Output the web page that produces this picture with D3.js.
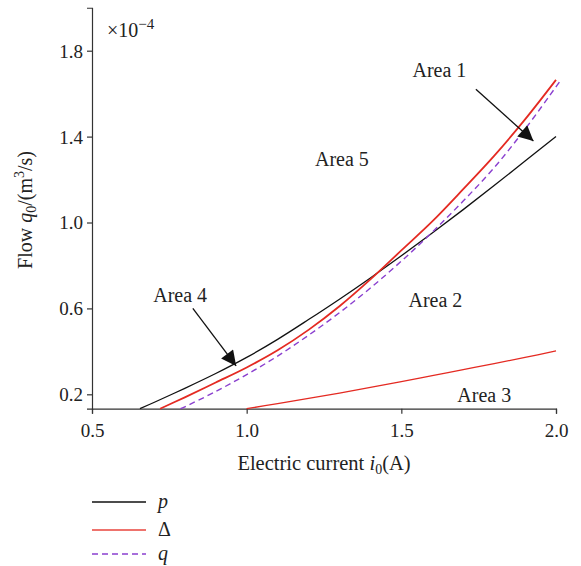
<!DOCTYPE html>
<html>
<head>
<meta charset="utf-8">
<script src="https://cdn.jsdelivr.net/npm/d3@7"></script>
<style>
  body { margin: 0; background: #fff; }
  svg { font-family: "Liberation Serif", "DejaVu Serif", serif; }
</style>
</head>
<body>
<svg id="chart" width="581" height="566"></svg>
<script>
// curve p (black)
const pCurrent = [0.655, 0.7, 0.8, 0.9, 1.0, 1.1, 1.2, 1.3, 1.4, 1.5, 1.6, 1.7, 1.8, 1.9, 2.0];
const pFlow    = [0.133, 0.162, 0.228, 0.297, 0.372, 0.456, 0.548, 0.643, 0.742, 0.845, 0.951, 1.06, 1.172, 1.286, 1.40];

// curve delta (red, upper)
const dCurrent = [0.72, 0.8, 0.9, 1.0, 1.1, 1.2, 1.3, 1.4, 1.5, 1.6, 1.7, 1.8, 1.9, 2.0];
const dFlow    = [0.133, 0.186, 0.255, 0.325, 0.405, 0.50, 0.61, 0.735, 0.87, 1.005, 1.155, 1.31, 1.48, 1.664];

// curve q (purple dashed)
const qCurrent = [0.786, 0.8, 0.9, 1.0, 1.1, 1.2, 1.3, 1.4, 1.5, 1.6, 1.7, 1.8, 1.9, 2.0, 2.015];
const qFlow    = [0.133, 0.142, 0.213, 0.292, 0.378, 0.475, 0.58, 0.695, 0.82, 0.955, 1.10, 1.255, 1.435, 1.632, 1.662];

// lower red line (Area 3 boundary)
const lCurrent = [1.0, 1.1, 1.2, 1.3, 1.4, 1.5, 1.6, 1.7, 1.8, 1.9, 2.0];
const lFlow    = [0.133, 0.157, 0.181, 0.206, 0.232, 0.259, 0.287, 0.315, 0.343, 0.372, 0.402];

const xTicks = [0.5, 1.0, 1.5, 2.0];
const yTicks = [0.2, 0.6, 1.0, 1.4, 1.8];

// area labels and arrows, in data units
const areaNames = ["Area 1", "Area 2", "Area 3", "Area 4", "Area 5"];
const areaX     = [1.536, 1.523, 1.681, 0.698, 1.221];
const areaY     = [1.679, 0.605, 0.166, 0.631, 1.261];
const arrows = [
  { from: [1.741, 1.620], to: [1.927, 1.380] },
  { from: [0.826, 0.600], to: [0.966, 0.332] }
];

const RED = "#e42a22";
const PURPLE = "#8a3fcf";

const svg = d3.select("#chart");

const x = d3.scaleLinear().domain([0.5, 2.0]).range([92, 556]);
const y = d3.scaleLinear().domain([0.133, 2.0]).range([408.7, 7.75]);

const zip = (a, b) => a.map((v, i) => [v, b[i]]);

const line = d3.line()
  .x(d => x(d[0]))
  .y(d => y(d[1]))
  .curve(d3.curveCatmullRom);

// axes
const xAxis = svg.append("g")
  .attr("transform", `translate(0,${y.range()[0]})`)
  .call(d3.axisBottom(x).tickValues(xTicks).tickFormat(d3.format(".1f")).tickSizeOuter(0).tickSize(5));
const yAxis = svg.append("g")
  .attr("transform", `translate(${x.range()[0]},0)`)
  .call(d3.axisLeft(y).tickValues(yTicks).tickFormat(d3.format(".1f")).tickSizeOuter(0).tickSize(5));

[xAxis, yAxis].forEach(a => {
  a.select(".domain").attr("stroke", "#333").attr("stroke-width", 1.2);
  a.selectAll(".tick line").attr("stroke", "#333").attr("stroke-width", 1.2);
  a.selectAll("text")
    .attr("fill", "#222")
    .style("font-family", "Liberation Serif, serif")
    .style("font-size", "19px");
});
xAxis.selectAll("text").attr("dy", "1.05em");
yAxis.selectAll("text").attr("dy", "0.34em").attr("x", -9);

// curves
svg.append("path").datum(zip(lCurrent, lFlow))
  .attr("d", line).attr("fill", "none").attr("stroke", RED).attr("stroke-width", 1.3);
svg.append("path").datum(zip(pCurrent, pFlow))
  .attr("d", line).attr("fill", "none").attr("stroke", "#111").attr("stroke-width", 1.3);
svg.append("path").datum(zip(dCurrent, dFlow))
  .attr("d", line).attr("fill", "none").attr("stroke", RED).attr("stroke-width", 1.8);
svg.append("path").datum(zip(qCurrent, qFlow))
  .attr("d", line).attr("fill", "none").attr("stroke", PURPLE).attr("stroke-width", 1.4)
  .attr("stroke-dasharray", "6,4");

// arrows
svg.append("defs").append("marker")
  .attr("id", "head")
  .attr("viewBox", "0 0 10 10")
  .attr("refX", 10).attr("refY", 5)
  .attr("markerWidth", 17).attr("markerHeight", 15)
  .attr("markerUnits", "userSpaceOnUse")
  .attr("orient", "auto")
  .append("path").attr("d", "M0,0 L10,5 L0,10 Z").attr("fill", "#111");

arrows.forEach(a => {
  svg.append("line")
    .attr("x1", x(a.from[0])).attr("y1", y(a.from[1]))
    .attr("x2", x(a.to[0])).attr("y2", y(a.to[1]))
    .attr("stroke", "#111").attr("stroke-width", 1.3)
    .attr("marker-end", "url(#head)");
});

// area labels
areaNames.forEach((name, i) => {
  svg.append("text")
    .attr("x", x(areaX[i])).attr("y", y(areaY[i]))
    .attr("font-size", 20).attr("fill", "#222")
    .text(name);
});

// exponent note
const expo = svg.append("text").attr("x", 107).attr("y", 37).attr("font-size", 20).attr("fill", "#222");
expo.append("tspan").text("×10");
expo.append("tspan").attr("dy", -8).attr("font-size", 15).text("−4");

// axis titles
const xt = svg.append("text")
  .attr("x", 324).attr("y", 470)
  .attr("text-anchor", "middle").attr("font-size", 20.5).attr("fill", "#222");
xt.append("tspan").text("Electric current ");
xt.append("tspan").attr("font-style", "italic").text("i");
xt.append("tspan").attr("font-size", 14).attr("dy", 4).text("0");
xt.append("tspan").attr("dy", -4).text("(A)");

const yt = svg.append("text")
  .attr("transform", "translate(32,210) rotate(-90)")
  .attr("text-anchor", "middle").attr("font-size", 20).attr("fill", "#222");
yt.append("tspan").text("Flow ");
yt.append("tspan").attr("font-style", "italic").text("q");
yt.append("tspan").attr("font-size", 14).attr("dy", 4).text("0");
yt.append("tspan").attr("dy", -4).text("/(m");
yt.append("tspan").attr("font-size", 14).attr("dy", -8).text("3");
yt.append("tspan").attr("dy", 8).text("/s)");

// legend
const legendNames = ["p", "Δ", "q"];
const legendColors = ["#111", "#e8453d", PURPLE];
const legendDash = [null, null, "6,4"];
const legendItalic = [true, false, true];
const legendY = [502, 530, 554];

legendNames.forEach((n, i) => {
  svg.append("line")
    .attr("x1", 92).attr("x2", 146)
    .attr("y1", legendY[i]).attr("y2", legendY[i])
    .attr("stroke", legendColors[i]).attr("stroke-width", 1.5)
    .attr("stroke-dasharray", legendDash[i]);
  svg.append("text")
    .attr("x", 158).attr("y", legendY[i] + 6)
    .attr("font-size", 20).attr("fill", "#222")
    .attr("font-style", legendItalic[i] ? "italic" : "normal")
    .text(n);
});
</script>
</body>
</html>
